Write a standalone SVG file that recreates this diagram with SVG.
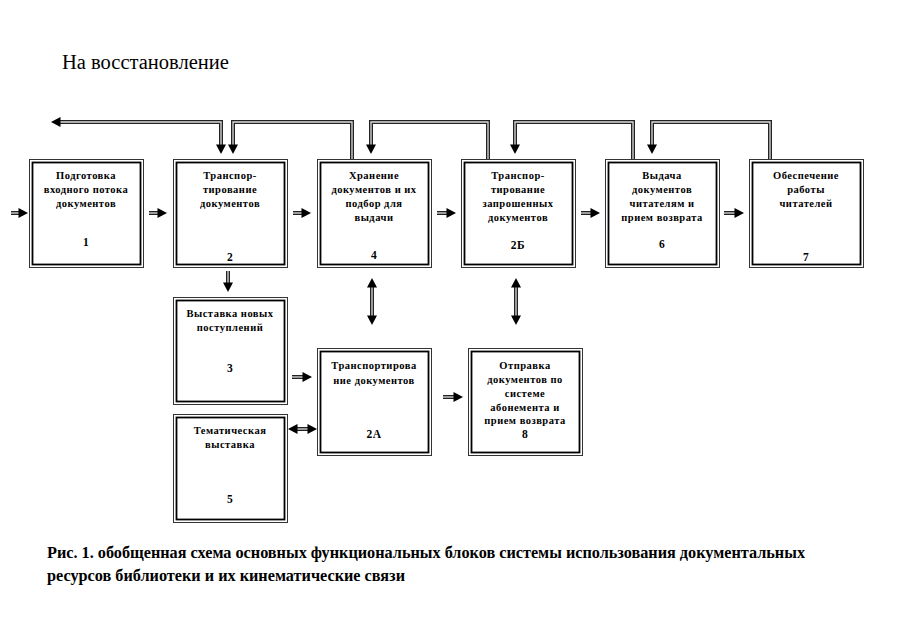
<svg xmlns="http://www.w3.org/2000/svg" xmlns:xlink="http://www.w3.org/1999/xlink" width="900" height="623" viewBox="0 0 900 623">
<style>
.bo{fill:#fff;stroke:#333;stroke-width:1}
.bi{fill:none;stroke:#000;stroke-width:1.8}
.t{font-family:"Liberation Serif","Times New Roman",serif;font-weight:bold;font-size:10.5px;letter-spacing:0.5px;text-anchor:middle;fill:#000}
.n{font-size:11.5px}
.o{fill:none;stroke:#222;stroke-width:4}
.i{fill:none;stroke:#ddd;stroke-width:1.3}
.ah{fill:#000}
.title{font-family:"Liberation Serif","Times New Roman",serif;font-size:20.5px;fill:#000}
.cap{font-family:"Liberation Serif","Times New Roman",serif;font-weight:bold;font-size:16.5px;fill:#000}
</style>
<defs>
<path id="ah" d="M0,0 L-9.5,-5 L-9.5,5 Z"/>
</defs>
<rect width="900" height="623" fill="#fff"/>
<text class="title" x="62" y="69">На восстановление</text>

<g id="connectors">
<g id="c-in1"><path class="o" d="M11,213 H20"/><path class="i" d="M11,213 H20"/><use href="#ah" class="ah" transform="translate(28,213)"/></g>
<g id="c-1-2"><path class="o" d="M149,213 H159"/><path class="i" d="M149,213 H159"/><use href="#ah" class="ah" transform="translate(167,213)"/></g>
<g id="c-2-4"><path class="o" d="M293,213 H303"/><path class="i" d="M293,213 H303"/><use href="#ah" class="ah" transform="translate(311,213)"/></g>
<g id="c-4-2b"><path class="o" d="M437,213 H447"/><path class="i" d="M437,213 H447"/><use href="#ah" class="ah" transform="translate(456,213)"/></g>
<g id="c-2b-6"><path class="o" d="M581,213 H591"/><path class="i" d="M581,213 H591"/><use href="#ah" class="ah" transform="translate(600,213)"/></g>
<g id="c-6-7"><path class="o" d="M724,213 H735"/><path class="i" d="M724,213 H735"/><use href="#ah" class="ah" transform="translate(744,213)"/></g>
<g id="c-restore"><path class="o" d="M60,122 H221 V145"/><path class="i" d="M60,122 H221 V145"/><use href="#ah" class="ah" transform="translate(51,122) rotate(180)"/><use href="#ah" class="ah" transform="translate(221,154) rotate(90)"/></g>
<g id="c-4-2"><path class="o" d="M352,159 V122 H233 V145"/><path class="i" d="M352,159 V122 H233 V145"/><use href="#ah" class="ah" transform="translate(233,154) rotate(90)"/></g>
<g id="c-2b-4"><path class="o" d="M488,159 V122 H371 V145"/><path class="i" d="M488,159 V122 H371 V145"/><use href="#ah" class="ah" transform="translate(371,154) rotate(90)"/></g>
<g id="c-6-2b"><path class="o" d="M633,159 V122 H515 V145"/><path class="i" d="M633,159 V122 H515 V145"/><use href="#ah" class="ah" transform="translate(515,154) rotate(90)"/></g>
<g id="c-7-6"><path class="o" d="M770,159 V122 H652 V145"/><path class="i" d="M770,159 V122 H652 V145"/><use href="#ah" class="ah" transform="translate(652,154) rotate(90)"/></g>
<g id="c-2-3"><path class="o" d="M228,271 V283"/><path class="i" d="M228,271 V283"/><use href="#ah" class="ah" transform="translate(228,292) rotate(90)"/></g>
<g id="c-4-2a"><path class="o" d="M372,286 V317"/><path class="i" d="M372,286 V317"/><use href="#ah" class="ah" transform="translate(372,278) rotate(-90)"/><use href="#ah" class="ah" transform="translate(372,325) rotate(90)"/></g>
<g id="c-2b-8"><path class="o" d="M516,286 V317"/><path class="i" d="M516,286 V317"/><use href="#ah" class="ah" transform="translate(516,278) rotate(-90)"/><use href="#ah" class="ah" transform="translate(516,325) rotate(90)"/></g>
<g id="c-3-2a"><path class="o" d="M292,377 H304"/><path class="i" d="M292,377 H304"/><use href="#ah" class="ah" transform="translate(312,377)"/></g>
<g id="c-2a-8"><path class="o" d="M443,397 H455"/><path class="i" d="M443,397 H455"/><use href="#ah" class="ah" transform="translate(463,397)"/></g>
<g id="c-5-2a"><path class="o" d="M296,429 H309"/><path class="i" d="M296,429 H309"/><use href="#ah" class="ah" transform="translate(288,429) rotate(180)"/><use href="#ah" class="ah" transform="translate(317,429)"/></g>
</g>

<g id="n1"><rect class="bo" x="29.5" y="159.5" width="114" height="108"/><rect class="bi" x="32.5" y="162.5" width="108" height="102"/>
<text class="t" x="86" y="179">Подготовка</text><text class="t" x="86" y="193">входного потока</text><text class="t" x="86" y="207">документов</text><text class="t n" x="86" y="246">1</text></g>
<g id="n2"><rect class="bo" x="173.5" y="159.5" width="114" height="108"/><rect class="bi" x="176.5" y="162.5" width="108" height="102"/>
<text class="t" x="230" y="179">Транспор-</text><text class="t" x="230" y="193">тирование</text><text class="t" x="230" y="207">документов</text><text class="t n" x="230" y="261">2</text></g>
<g id="n4"><rect class="bo" x="317.5" y="159.5" width="114" height="108"/><rect class="bi" x="320.5" y="162.5" width="108" height="102"/>
<text class="t" x="374" y="179">Хранение</text><text class="t" x="374" y="193">документов и их</text><text class="t" x="374" y="207">подбор для</text><text class="t" x="374" y="221">выдачи</text><text class="t n" x="374" y="259">4</text></g>
<g id="n2b"><rect class="bo" x="461.5" y="159.5" width="114" height="108"/><rect class="bi" x="464.5" y="162.5" width="108" height="102"/>
<text class="t" x="518" y="179">Транспор-</text><text class="t" x="518" y="193">тирование</text><text class="t" x="518" y="207">запрошенных</text><text class="t" x="518" y="221">документов</text><text class="t n" x="518" y="249">2Б</text></g>
<g id="n6"><rect class="bo" x="605.5" y="159.5" width="114" height="108"/><rect class="bi" x="608.5" y="162.5" width="108" height="102"/>
<text class="t" x="662" y="179">Выдача</text><text class="t" x="662" y="193">документов</text><text class="t" x="662" y="207">читателям и</text><text class="t" x="662" y="221">прием возврата</text><text class="t n" x="662" y="248">6</text></g>
<g id="n7"><rect class="bo" x="749.5" y="159.5" width="114" height="108"/><rect class="bi" x="752.5" y="162.5" width="108" height="102"/>
<text class="t" x="806" y="179">Обеспечение</text><text class="t" x="806" y="193">работы</text><text class="t" x="806" y="207">читателей</text><text class="t n" x="806" y="261">7</text></g>
<g id="n3"><rect class="bo" x="173.5" y="297.5" width="114" height="107"/><rect class="bi" x="176.5" y="300.5" width="108" height="101"/>
<text class="t" x="230" y="317">Выставка новых</text><text class="t" x="230" y="331">поступлений</text><text class="t n" x="230" y="372">3</text></g>
<g id="n5"><rect class="bo" x="173.5" y="414.5" width="114" height="108"/><rect class="bi" x="176.5" y="417.5" width="108" height="102"/>
<text class="t" x="230" y="434">Тематическая</text><text class="t" x="230" y="448">выставка</text><text class="t n" x="230" y="503">5</text></g>
<g id="n2a"><rect class="bo" x="317.5" y="348.5" width="114" height="107"/><rect class="bi" x="320.5" y="351.5" width="108" height="101"/>
<text class="t" x="374" y="369">Транспортирова</text><text class="t" x="374" y="384">ние документов</text><text class="t n" x="374" y="438">2А</text></g>
<g id="n8"><rect class="bo" x="468.5" y="348.5" width="114" height="107"/><rect class="bi" x="471.5" y="351.5" width="108" height="101"/>
<text class="t" x="525" y="369">Отправка</text><text class="t" x="525" y="383">документов по</text><text class="t" x="525" y="397">системе</text><text class="t" x="525" y="411">абонемента и</text><text class="t" x="525" y="424">прием возврата</text><text class="t n" x="525" y="438">8</text></g>

<text class="cap" x="47" y="558" textLength="758" lengthAdjust="spacingAndGlyphs">Рис. 1. обобщенная схема основных функциональных блоков системы использования документальных</text>
<text class="cap" x="47" y="581" textLength="358" lengthAdjust="spacingAndGlyphs">ресурсов библиотеки и их кинематические связи</text>
</svg>
